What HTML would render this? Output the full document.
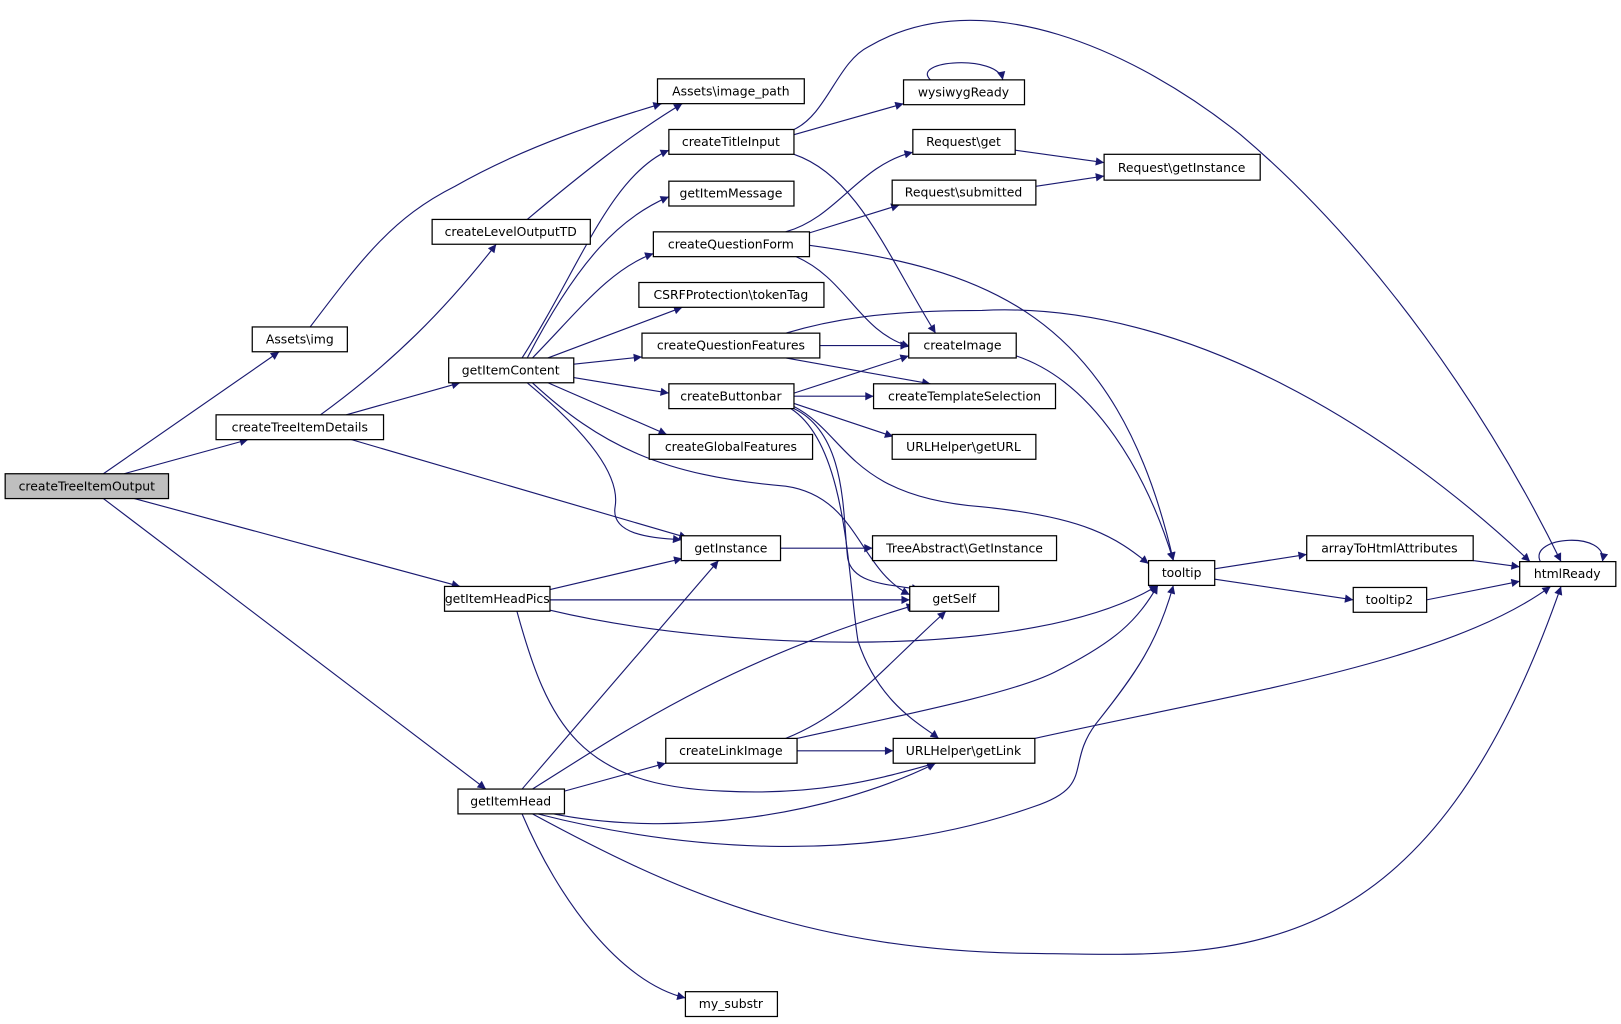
<!DOCTYPE html>
<html><head><meta charset="utf-8"><style>
html,body{margin:0;padding:0;background:#fff;width:1621px;height:1024px;overflow:hidden}
svg{display:block}
text{font-family:"DejaVu Sans","Liberation Sans",sans-serif;font-size:12px;fill:#000}
.n{fill:#fff;stroke:#000;stroke-width:1.2}
.e{fill:none;stroke:#191970;stroke-width:1.1;marker-end:url(#a)}
</style></head><body>
<svg width="1621" height="1024" viewBox="0 0 1568 990" xmlns="http://www.w3.org/2000/svg">
<defs><marker id="a" viewBox="0 0 10 10" refX="10" refY="5" markerWidth="10" markerHeight="8" markerUnits="userSpaceOnUse" orient="auto"><path d="M0,0 L10,5 L0,10 z" fill="#191970"/></marker></defs>
<g>
<path class="e" d="M100,458 L270,340"/>
<path class="e" d="M120,458 L240,425"/>
<path class="e" d="M130,482 L445,567"/>
<path class="e" d="M100,482 L470,763"/>
<path class="e" d="M300,316 C350,250 380,210 440,180 C510,140 590,115 640,100"/>
<path class="e" d="M510,212 C560,170 610,130 660,100"/>
<path class="e" d="M310,401 C380,350 430,300 480,236"/>
<path class="e" d="M335,401 L445,370"/>
<path class="e" d="M340,425 L665,520"/>
<path class="e" d="M505,346 C560,260 590,170 647,145"/>
<path class="e" d="M510,346 C560,250 600,210 647,190"/>
<path class="e" d="M515,346 C560,300 590,260 632,245"/>
<path class="e" d="M530,346 L660,297"/>
<path class="e" d="M555,352 L621,345"/>
<path class="e" d="M555,365 L647,380"/>
<path class="e" d="M530,370 L645,420"/>
<path class="e" d="M510,370 C570,420 600,460 595,490 C590,520 640,520 659,522"/>
<path class="e" d="M515,370 C580,430 640,460 760,470 C830,480 830,550 880,575"/>
<path class="e" d="M768,130 L874,100"/>
<path class="e" d="M768,125 C800,110 810,60 840,45 C950,-20 1100,50 1200,130 C1330,240 1440,400 1510,543"/>
<path class="e" d="M768,149 C830,170 860,250 905,322"/>
<path class="e" d="M900,77 C880,58 965,52 970,77"/>
<path class="e" d="M982,145 L1068,157"/>
<path class="e" d="M1002,180 L1068,170"/>
<path class="e" d="M760,224 C810,210 830,160 883,147"/>
<path class="e" d="M783,225 L870,198"/>
<path class="e" d="M783,237 C950,260 1080,300 1135,542"/>
<path class="e" d="M770,248 C820,270 830,320 880,335"/>
<path class="e" d="M760,322 C800,310 850,300 950,300 C1150,290 1350,420 1480,543"/>
<path class="e" d="M793,334 L879,334"/>
<path class="e" d="M760,346 L900,371"/>
<path class="e" d="M983,344 C1060,370 1110,460 1135,542"/>
<path class="e" d="M768,380 L879,344"/>
<path class="e" d="M768,383 L845,383"/>
<path class="e" d="M768,390 L864,422"/>
<path class="e" d="M768,393 C820,420 820,480 950,490 C1050,500 1080,520 1111,545"/>
<path class="e" d="M768,395 C820,420 815,500 820,540 C825,565 860,565 890,570"/>
<path class="e" d="M765,395 C820,430 820,560 830,620 C850,680 890,700 908,714"/>
<path class="e" d="M755,530 L844,530"/>
<path class="e" d="M532,570 L660,540"/>
<path class="e" d="M532,580 L880,580"/>
<path class="e" d="M532,590 C700,630 1000,640 1120,566"/>
<path class="e" d="M500,591 C530,700 560,760 700,765 C800,770 860,750 905,738"/>
<path class="e" d="M1175,550 L1264,536"/>
<path class="e" d="M1175,560 L1309,580"/>
<path class="e" d="M1425,542 L1470,548"/>
<path class="e" d="M1380,580 L1470,562"/>
<path class="e" d="M1490,543 C1478,518 1556,513 1550,543"/>
<path class="e" d="M760,714 C820,690 850,650 915,591"/>
<path class="e" d="M771,714 C880,690 980,670 1020,650 C1080,620 1100,600 1120,566"/>
<path class="e" d="M771,726 L864,726"/>
<path class="e" d="M1001,714 C1200,670 1400,640 1500,567"/>
<path class="e" d="M505,763 L695,542"/>
<path class="e" d="M515,763 C600,710 700,640 885,585"/>
<path class="e" d="M546,765 L644,738"/>
<path class="e" d="M535,787 C650,810 800,790 905,738"/>
<path class="e" d="M520,787 C650,820 830,840 1000,780 C1060,760 1030,740 1060,700 C1100,650 1120,620 1135,566"/>
<path class="e" d="M515,787 C650,860 780,920 1000,922 C1200,925 1380,940 1510,567"/>
<path class="e" d="M505,787 C540,870 600,950 663,965"/>
</g>
<g>
<rect x="5" y="458" width="158" height="24" fill="#bfbfbf" stroke="#000" stroke-width="1.2"/><text x="84" y="474" text-anchor="middle">createTreeItemOutput</text>
<rect class="n" x="636" y="76" width="142" height="24"/><text x="707" y="92" text-anchor="middle">Assets\image_path</text>
<rect class="n" x="874" y="77" width="117" height="24"/><text x="932" y="93" text-anchor="middle">wysiwygReady</text>
<rect class="n" x="647" y="125" width="121" height="24"/><text x="707" y="141" text-anchor="middle">createTitleInput</text>
<rect class="n" x="883" y="125" width="99" height="24"/><text x="932" y="141" text-anchor="middle">Request\get</text>
<rect class="n" x="1068" y="149" width="151" height="25"/><text x="1143" y="166" text-anchor="middle">Request\getInstance</text>
<rect class="n" x="647" y="175" width="121" height="24"/><text x="707" y="191" text-anchor="middle">getItemMessage</text>
<rect class="n" x="863" y="174" width="139" height="24"/><text x="932" y="190" text-anchor="middle">Request\submitted</text>
<rect class="n" x="418" y="212" width="153" height="24"/><text x="494" y="228" text-anchor="middle">createLevelOutputTD</text>
<rect class="n" x="632" y="224" width="151" height="24"/><text x="707" y="240" text-anchor="middle">createQuestionForm</text>
<rect class="n" x="618" y="273" width="179" height="24"/><text x="707" y="289" text-anchor="middle">CSRFProtection\tokenTag</text>
<rect class="n" x="244" y="316" width="92" height="24"/><text x="290" y="332" text-anchor="middle">Assets\img</text>
<rect class="n" x="621" y="322" width="172" height="24"/><text x="707" y="338" text-anchor="middle">createQuestionFeatures</text>
<rect class="n" x="879" y="322" width="104" height="24"/><text x="931" y="338" text-anchor="middle">createImage</text>
<rect class="n" x="434" y="346" width="121" height="24"/><text x="494" y="362" text-anchor="middle">getItemContent</text>
<rect class="n" x="647" y="371" width="121" height="24"/><text x="707" y="387" text-anchor="middle">createButtonbar</text>
<rect class="n" x="845" y="371" width="176" height="24"/><text x="933" y="387" text-anchor="middle">createTemplateSelection</text>
<rect class="n" x="209" y="401" width="162" height="24"/><text x="290" y="417" text-anchor="middle">createTreeItemDetails</text>
<rect class="n" x="628" y="420" width="158" height="24"/><text x="707" y="436" text-anchor="middle">createGlobalFeatures</text>
<rect class="n" x="863" y="420" width="139" height="24"/><text x="932" y="436" text-anchor="middle">URLHelper\getURL</text>
<rect class="n" x="659" y="518" width="96" height="24"/><text x="707" y="534" text-anchor="middle">getInstance</text>
<rect class="n" x="844" y="518" width="178" height="24"/><text x="933" y="534" text-anchor="middle">TreeAbstract\GetInstance</text>
<rect class="n" x="1111" y="542" width="64" height="24"/><text x="1143" y="558" text-anchor="middle">tooltip</text>
<rect class="n" x="1264" y="518" width="161" height="24"/><text x="1344" y="534" text-anchor="middle">arrayToHtmlAttributes</text>
<rect class="n" x="1470" y="543" width="93" height="24"/><text x="1516" y="559" text-anchor="middle">htmlReady</text>
<rect class="n" x="880" y="567" width="86" height="24"/><text x="923" y="583" text-anchor="middle">getSelf</text>
<rect class="n" x="430" y="567" width="102" height="24"/><text x="481" y="583" text-anchor="middle">getItemHeadPics</text>
<rect class="n" x="1309" y="568" width="71" height="24"/><text x="1344" y="584" text-anchor="middle">tooltip2</text>
<rect class="n" x="644" y="714" width="127" height="24"/><text x="707" y="730" text-anchor="middle">createLinkImage</text>
<rect class="n" x="864" y="714" width="137" height="24"/><text x="932" y="730" text-anchor="middle">URLHelper\getLink</text>
<rect class="n" x="443" y="763" width="103" height="24"/><text x="494" y="779" text-anchor="middle">getItemHead</text>
<rect class="n" x="663" y="959" width="89" height="24"/><text x="707" y="975" text-anchor="middle">my_substr</text>
</g>
</svg>
</body></html>
